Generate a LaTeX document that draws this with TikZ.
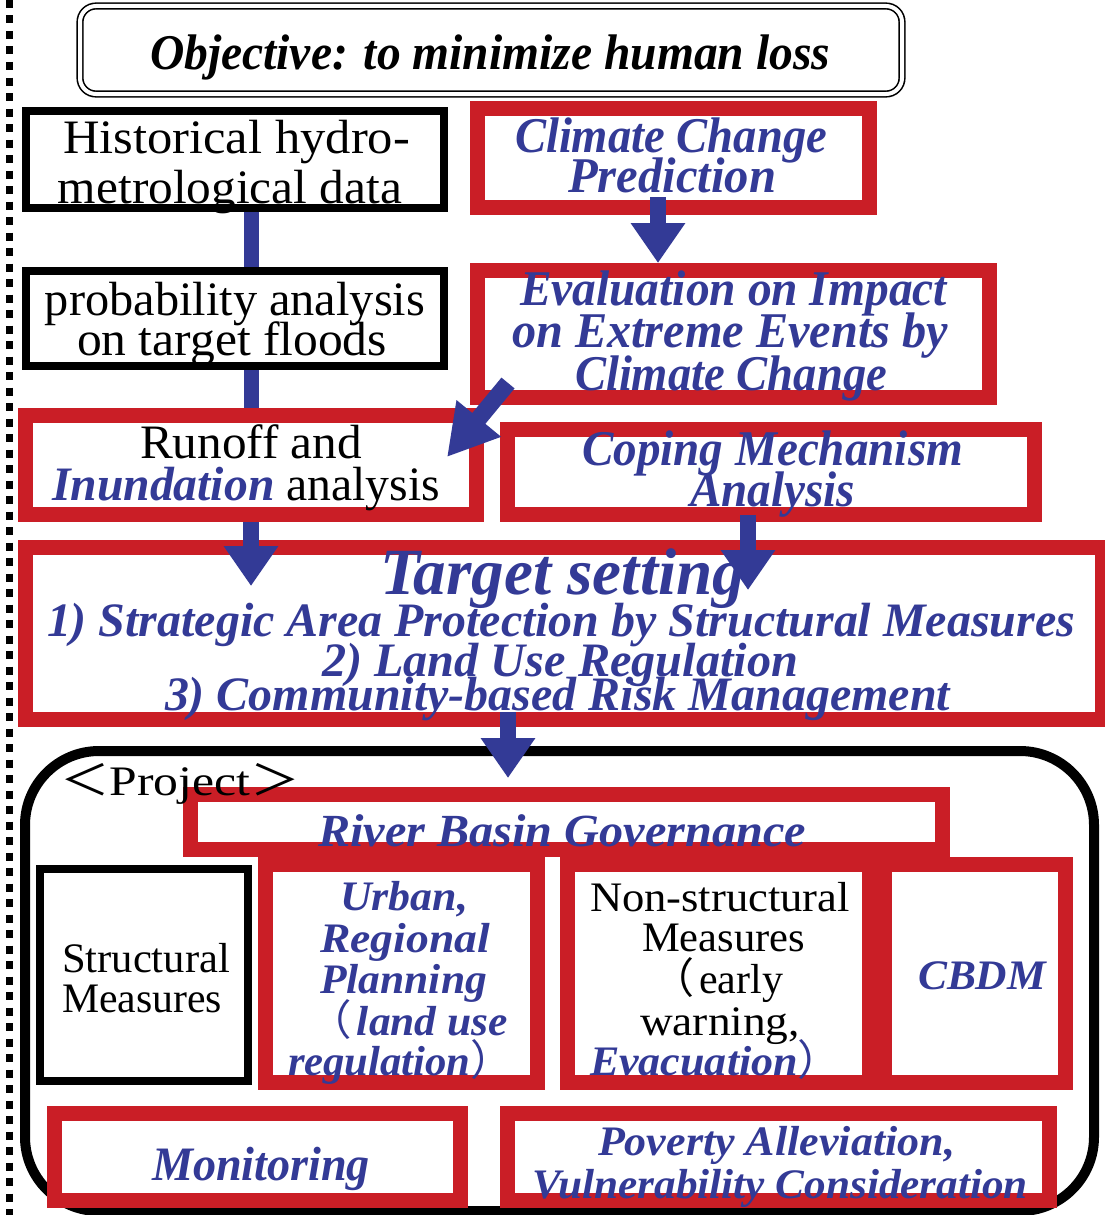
\documentclass[tikz,border=0pt]{standalone}
\usepackage{fontspec}
\setmainfont{Liberation Serif}
\newfontfamily\cjkf{Noto Sans CJK JP}
\usepackage{graphicx}
\usetikzlibrary{arrows.meta,calc}
\definecolor{myblue}{RGB}{51,58,150}
\definecolor{myred}{RGB}{202,30,38}
\newlength\fitlen
\newcommand\fitw[2]{\settowidth\fitlen{#2}\pgfmathsetmacro\fitfac{#1/\fitlen}\scalebox{\fitfac}[1]{#2}}
\newcommand\rbox[5]{\node[redbox, minimum width={#4-#2-15}, minimum height={#5-#3-15}] (#1) at ({(#2+#4)/2},{(#3+#5)/2}) {};}
\newcommand\kbox[5]{\node[blkbox, minimum width={#4-#2-8}, minimum height={#5-#3-8}] (#1) at ({(#2+#4)/2},{(#3+#5)/2}) {};}
\newcommand\tline[6]{\node[#4, anchor=base, inner sep=0pt] (#1) at (#2,#3) {\fitw{#5}{#6}};}
\newcommand\fwl{{\cjkf\mdseries\upshape\hspace*{-0.5em}（\hspace*{0.12em}}}
\newcommand\fwr{{\cjkf\mdseries\upshape ）\hspace*{-0.5em}}}
\tikzset{
  redbox/.style={draw=myred, line width=15pt, fill=white, inner sep=0pt},
  blkbox/.style={draw=black, line width=8pt, fill=white, inner sep=0pt},
  barrow/.style={draw=myblue, line width=16pt, -{Triangle[width=52pt,length=40pt]}},
  darrow/.style={draw=myblue, line width=17pt, -{Triangle[width=54pt,length=50pt]}},
  bbar/.style={draw=myblue, line width=15pt},
  bt/.style={text=myblue, font=\fontsize{#1}{#1}\selectfont\bfseries\itshape},
  rt/.style={text=black, font=\fontsize{#1}{#1}\selectfont},
  kt/.style={text=black, font=\fontsize{#1}{#1}\selectfont\bfseries\itshape},
}
\begin{document}
\begin{tikzpicture}[x=1pt,y=-1pt]
\useasboundingbox[fill=white] (0,0) rectangle (1104,1215);
% dotted margin line
\draw[line width=7pt, dash pattern=on 8pt off 7.5pt] (9,0) -- (9,1215);
% objective
\node[draw=black, double, double distance=4pt, line width=1.6pt, rounded corners=16pt,
      minimum width=822pt, minimum height=88pt, inner sep=0pt] (obj) at (491,50) {};
% project frame
\node[draw=black, line width=10pt, rounded corners=74pt, minimum width=1069pt,
      minimum height=460pt, inner sep=0pt] (proj) at (559.5,981) {};
% boxes
\kbox{hist}{22}{107}{448}{212}
\kbox{prob}{22}{267}{448}{370}
\rbox{clim}{470}{101}{877}{215}
\rbox{eval}{470}{263}{997}{405}
\rbox{runoff}{18}{408}{484}{522}
\rbox{coping}{500}{422}{1042}{522}
\rbox{target}{18}{540}{1110}{727}
\rbox{river}{183}{787}{950}{857}
\rbox{urban}{258}{857}{545}{1090}
\rbox{nonstr}{560}{857}{877}{1090}
\rbox{cbdm}{877}{857}{1073}{1090}
\kbox{struct}{36}{865}{252}{1085}
\rbox{monit}{47}{1106}{468}{1208}
\rbox{pov}{500}{1106}{1057}{1208}
% texts
\tline{tobj}{490}{70}{kt=50}{680}{Objective: to minimize human loss}
\tline{th1}{236.5}{153}{rt=48}{347}{Historical hydro-}
\tline{th2}{230}{203}{rt=48}{344}{metrological data}
\tline{tp1}{235}{315}{rt=48}{380}{probability analysis}
\tline{tp2}{232}{355}{rt=48}{310}{on target floods}
\tline{tc1}{671}{152}{bt=50}{312}{Climate Change}
\tline{tc2}{672}{192}{bt=50}{208}{Prediction}
\tline{te1}{733.5}{305}{bt=50}{427}{Evaluation on Impact}
\tline{te2}{730}{347}{bt=50}{436}{on Extreme Events by}
\tline{te3}{731}{390}{bt=50}{312}{Climate Change}
\tline{tr1}{251}{458}{rt=48}{222}{Runoff and}
\tline{tr2}{246}{500}{rt=48}{388}{{\color{myblue}\bfseries\itshape Inundation} analysis}
\tline{tm1}{772.5}{465}{bt=50}{381}{Coping Mechanism}
\tline{tm2}{772.5}{506}{bt=50}{165}{Analysis}
\tline{tt0}{562.5}{594}{bt=66}{365}{Target setting}
\tline{tt1}{561}{636}{bt=48}{1028}{1) Strategic Area Protection by Structural Measures}
\tline{tt2}{560}{676}{bt=48}{476}{2) Land Use Regulation}
\tline{tt3}{557.5}{710}{bt=48}{785}{3) Community-based Risk Management}
\tline{tproj}{180}{795}{rt=42}{240}{{\cjkf ＜}Project{\cjkf ＞}}
\tline{triv}{562}{846}{bt=46}{488}{River Basin Governance}
\tline{ts1}{146}{972}{rt=42}{168}{Structural}
\tline{ts2}{142}{1012}{rt=42}{160}{Measures}
\tline{tu1}{404}{910}{bt=42}{128}{Urban,}
\tline{tu2}{405}{952}{bt=42}{170}{Regional}
\tline{tu3}{403.5}{993}{bt=42}{167}{Planning}
\tline{tu4}{419}{1035}{bt=42}{178}{\fwl land use}
\tline{tu5}{390}{1075}{bt=42}{204}{regulation\fwr}
\tline{tn1}{720}{911}{rt=42}{260}{Non-structural}
\tline{tn2}{723.5}{951}{rt=42}{163}{Measures}
\tline{tn3}{728}{993}{rt=42}{110}{\fwl early}
\tline{tn4}{720}{1035}{rt=42}{160}{warning,}
\tline{tn5}{705}{1075}{bt=42}{230}{Evacuation\fwr}
\tline{tcb}{982}{989}{bt=42}{128}{CBDM}
\tline{tmo}{261}{1180}{bt=48}{218}{Monitoring}
\tline{tpv1}{776.5}{1155}{bt=42}{357}{Poverty Alleviation,}
\tline{tpv2}{780}{1198}{bt=42}{496}{Vulnerability Consideration}
% connectors
\draw[bbar] (hist.south -| runoff.north) -- (prob.north -| runoff.north);
\draw[bbar] (prob.south -| runoff.north) -- (runoff.north);
\coordinate (a1s) at ($(clim.south)+(-15.5,-18)$);
\draw[barrow] (a1s) -- (a1s |- eval.north);
\coordinate (a2s) at ($(eval.south west)+(38,-22)$);
\coordinate (a2e) at ($(runoff.north east)+(-37,49)$);
\draw[darrow] (a2s) -- (a2e);
\draw[barrow] (runoff.south) -- ($(runoff.south |- target.north)+(0,46)$);
\coordinate (a4s) at ($(coping.south)+(-23,-7)$);
\draw[barrow] (a4s) -- ($(a4s |- target.north)+(0,50)$);
\coordinate (a5s) at ($(target.south)+(-56,-15)$);
\draw[barrow] (a5s) -- ($(a5s |- proj.north)+(0,32)$);
\end{tikzpicture}
\end{document}
